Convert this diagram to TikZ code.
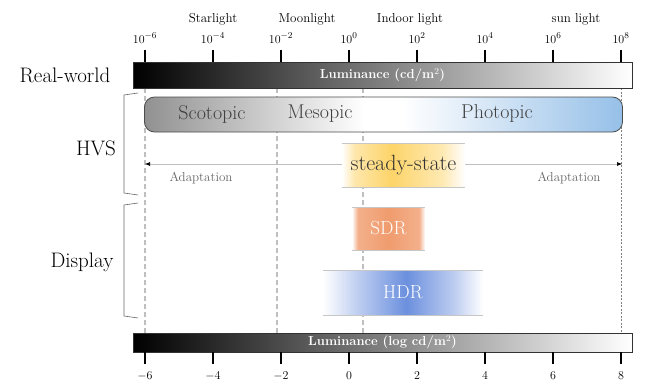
\documentclass[tikz,border=0pt]{standalone}
\usepackage{amsmath}
\usetikzlibrary{arrows.meta}

\newcommand{\pxfont}[1]{\fontsize{#1}{#1}\selectfont}

\definecolor{hvsgray}{RGB}{145,145,145}
\definecolor{hvsblue}{RGB}{150,192,232}
\definecolor{ssyellow}{RGB}{253,212,105}
\definecolor{sdrorange}{RGB}{240,156,110}
\definecolor{hdrblue}{RGB}{108,144,222}

% horizontal shadings (25bp = left edge, 75bp = right edge)
\pgfdeclarehorizontalshading{lumshade}{100bp}{color(0bp)=(black); color(25bp)=(black); color(75bp)=(white); color(100bp)=(white)}
\pgfdeclarehorizontalshading{phaseshade}{100bp}{color(0bp)=(hvsgray); color(25bp)=(hvsgray); color(48bp)=(white); color(52bp)=(white); color(75bp)=(hvsblue); color(100bp)=(hvsblue)}
\pgfdeclarehorizontalshading{ssshade}{100bp}{color(0bp)=(white); color(25bp)=(white); color(30bp)=(ssyellow!55); color(45bp)=(ssyellow); color(66bp)=(ssyellow!50); color(75bp)=(white); color(100bp)=(white)}
\pgfdeclarehorizontalshading{sdrshade}{100bp}{color(0bp)=(white); color(25bp)=(white); color(29bp)=(sdrorange!80); color(50bp)=(sdrorange); color(71bp)=(sdrorange!80); color(75bp)=(white); color(100bp)=(white)}
\pgfdeclarehorizontalshading{hdrshade}{100bp}{color(0bp)=(white); color(25bp)=(white); color(36bp)=(hdrblue!45); color(51bp)=(hdrblue); color(66bp)=(hdrblue!45); color(75bp)=(white); color(100bp)=(white)}

\begin{document}
\begin{tikzpicture}[
    x=1pt, y=-1pt,
    lbl/.style={font=\pxfont{21}},
    src/.style={font=\pxfont{13}},
    phase/.style={font=\pxfont{20}, text=black!75},
    tickline/.style={line width=2pt},
    lumbar/.style={draw=black!80, line width=0.8pt, shade, shading=lumshade, minimum width=499pt, inner sep=0pt},
    lumtext/.style={font=\bfseries\pxfont{13}, text=white},
    guide/.style={draw=gray!50, line width=1.6pt, dash pattern=on 5pt off 3pt},
    edgeguide/.style={draw=gray, line width=0.6pt, dash pattern=on 2pt off 1.5pt},
    lumrange/.style={shade, minimum height=44pt, inner sep=0pt},
    rangeedge/.style={draw=gray!45, line width=0.6pt},
    brack/.style={draw=black!60, line width=0.6pt},
    adapt/.style={font=\pxfont{13}, text=black!60}
]
\useasboundingbox (0,0) rectangle (646,383);

% guides
\draw[guide] (145,88) -- (145,333);
\draw[guide] (277,88) -- (277,333);
\draw[guide] (363,88) -- (363,333);
\draw[edgeguide] (621,88) -- (621,333);

% luminance bars
\node[lumbar, minimum height=26pt, lumtext] (world) at (382.5,75) {Luminance (cd/m$^{2}$)};
\node[lumbar, minimum height=19pt, lumtext] (disp) at (382.5,342.5) {Luminance (log cd/m$^{2}$)};

\foreach \e [evaluate=\e as \x using 349+34*\e] in {-6,-4,...,8} {
    \draw[tickline] (\x,50) -- (\x,62);
    \node[src] (top\e) at (\x,38) {$10^{\e}$};
    \draw[tickline] (\x,352) -- (\x,364);
    \node[src] (bot\e) at (\x,376) {$\e$};
}

% light sources
\node[src] (star) at (213,19) {Starlight};
\node[src] (moon) at (307,19) {Moonlight};
\node[src] (indoor) at (410,19) {Indoor light};
\node[src] (sun) at (576,19) {sun light};

% HVS
\node[draw=black!70, line width=0.8pt, rounded corners=10pt, shade, shading=phaseshade,
      minimum width=478pt, minimum height=35pt] (vision) at (383.5,114.5) {};
\node[phase] (scot) at (212,114) {Scotopic};
\node[phase] (meso) at (320,114) {Mesopic};
\node[phase] (phot) at (497,114) {Photopic};

\coordinate (adl) at (145,164);
\coordinate (adr) at (622,164);
\draw[draw=gray!50, line width=0.6pt,
      {Latex[length=5pt, width=4pt, color=black]}-{Latex[length=5pt, width=4pt, color=black]}] (adl) -- (adr);
\node[adapt] (adaptl) at (201,178) {Adaptation};
\node[adapt] (adaptr) at (569,178) {Adaptation};

\node[lumrange, shading=ssshade, minimum width=123pt, font=\pxfont{22}, text=black!80] (steady) at (403.5,165) {steady-state};
\draw[rangeedge] (steady.north west) -- (steady.north east);
\draw[rangeedge] (steady.south west) -- (steady.south east);

% display
\node[lumrange, shading=sdrshade, minimum width=73pt, minimum height=43pt, font=\pxfont{19}, text=white] (sdr) at (388.5,228.5) {SDR};
\draw[rangeedge] (sdr.north west) -- (sdr.north east);
\draw[rangeedge] (sdr.south west) -- (sdr.south east);

\node[lumrange, shading=hdrshade, minimum width=160pt, minimum height=45pt, font=\pxfont{19}, text=white] (hdr) at (403,292.5) {HDR};
\draw[rangeedge] (hdr.north west) -- (hdr.north east);
\draw[rangeedge] (hdr.south west) -- (hdr.south east);

% row labels
\node[lbl] (real) at (65,75) {Real-world};
\node[lbl] (hvs) at (96,148) {HVS};
\node[lbl] (dsp) at (82,262) {Display};
\draw[brack] (138,93) -- (124,95) -- (124,193) -- (138,195);
\draw[brack] (138,203) -- (124,205) -- (124,316) -- (138,318);

\end{tikzpicture}
\end{document}
